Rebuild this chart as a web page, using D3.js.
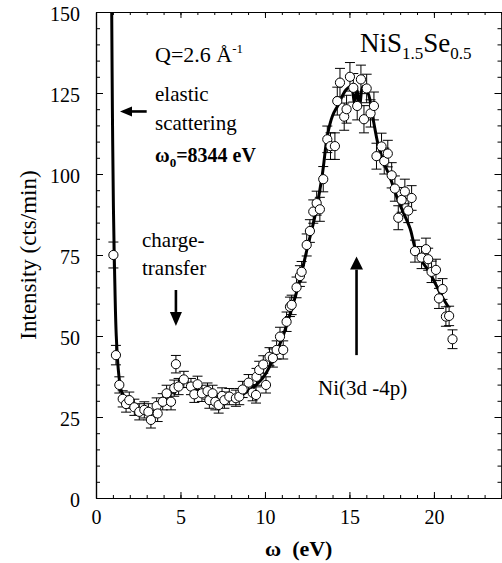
<!DOCTYPE html>
<html>
<head>
<meta charset="utf-8">
<script src="https://cdn.jsdelivr.net/npm/d3@7"></script>
<style>
  body { margin: 0; background: #fff; }
  svg { display: block; }
  svg text { font-family: "Liberation Serif", "Times New Roman", serif; fill: #000; }
</style>
</head>
<body>
<svg id="chart" width="502" height="563" font-family="Liberation Serif, serif"></svg>
<script>
// measured points: energy loss (eV), intensity (cts/min), error bar half-height
const omega = [1.03, 1.18, 1.38, 1.58, 1.78, 1.97, 2.27, 2.56, 2.86, 3.10, 3.25, 3.59, 3.65, 3.95, 4.18, 4.44, 4.63, 4.73, 4.89, 5.20,
  5.62, 5.82, 6.01, 6.27, 6.60, 6.71, 6.90, 7.06, 7.26, 7.46, 7.60, 7.89, 8.28, 8.48, 8.68, 9.03, 9.27, 9.47, 9.50, 9.66,
  9.90, 10.06, 10.27, 10.47, 10.69, 10.89, 11.08, 11.28, 11.48, 11.58, 11.87, 12.07, 12.17, 12.47, 12.66, 12.86, 13.06, 13.25, 13.45, 13.69,
  13.88, 14.14, 14.28, 14.44, 14.69, 14.83, 15.03, 15.23, 15.46, 15.68, 15.86, 16.02, 16.25, 16.45, 16.60, 16.90, 17.06, 17.27, 17.50, 17.69,
  17.89, 18.09, 18.28, 18.48, 18.68, 18.88, 19.27, 19.53, 19.66, 19.86, 20.12, 20.30, 20.51, 20.71, 20.90, 21.10];
const intensity = [75.0, 44.1, 34.9, 30.6, 29.0, 30.2, 28.0, 26.6, 27.2, 26.6, 24.1, 28.4, 26.1, 29.7, 32.3, 29.7, 33.9, 41.3, 34.4, 36.6,
  34.4, 32.0, 35.1, 32.3, 33.0, 30.2, 32.3, 29.7, 28.7, 31.5, 30.2, 31.3, 30.8, 31.3, 33.5, 35.6, 32.5, 31.8, 37.4, 39.5,
  41.2, 34.9, 43.6, 43.2, 45.7, 49.8, 45.7, 54.4, 59.0, 59.6, 65.0, 68.5, 69.8, 78.1, 82.4, 88.4, 91.0, 89.1, 98.4, 110.7,
  108.6, 108.6, 122.5, 128.2, 117.7, 120.0, 130.0, 126.6, 121.0, 129.2, 116.9, 126.4, 118.7, 121.0, 105.5, 108.5, 104.0, 106.3, 99.6, 95.5,
  86.5, 92.0, 94.6, 88.7, 92.6, 76.2, 74.2, 76.8, 73.7, 69.8, 70.4, 61.6, 64.5, 56.0, 56.2, 49.0];
const errors = [4.0, 3.0, 2.5, 2.5, 2.5, 2.5, 2.5, 2.5, 2.5, 2.5, 2.5, 2.5, 2.5, 2.5, 2.5, 2.5, 2.5, 2.7, 2.5, 2.5,
  2.5, 2.5, 2.5, 2.5, 2.5, 2.5, 2.5, 2.5, 2.5, 2.5, 2.5, 2.5, 2.5, 2.5, 2.5, 2.5, 2.5, 2.5, 2.6, 2.7,
  2.7, 2.5, 2.8, 2.8, 2.8, 2.9, 2.8, 3.0, 3.0, 3.0, 3.2, 3.2, 3.2, 3.4, 3.5, 3.6, 3.7, 3.7, 3.9, 4.1,
  4.1, 4.1, 4.3, 4.4, 4.2, 4.3, 4.4, 4.4, 4.3, 4.4, 4.2, 4.4, 4.2, 4.3, 4.0, 4.1, 4.0, 4.1, 3.9, 3.9,
  3.7, 3.8, 3.8, 3.7, 3.8, 3.4, 3.4, 3.4, 3.4, 3.3, 3.3, 3.1, 3.2, 3.0, 3.0, 2.9];

// fitted curve drawn through the data
const fitOmega = [0.93, 0.97, 1.03, 1.10, 1.20, 1.35, 1.50, 1.70, 2.0, 2.5, 3.0, 3.5, 4.0, 4.5, 5.0, 5.3, 5.7, 6.2, 7.0, 7.5,
  8.0, 8.5, 9.0, 9.5, 10.0, 10.5, 11.0, 11.5, 12.0, 12.5, 13.0, 13.4, 13.7, 14.0, 14.3, 14.8, 15.1, 15.3, 15.45, 15.6,
  15.8, 16.1, 16.4, 16.7, 17.0, 17.4, 17.8, 18.2, 18.6, 18.9, 19.3, 19.7, 20.1, 20.5, 20.85];
const fitIntensity = [150, 120, 90, 70, 50, 38, 33, 31, 29.5, 27.5, 26.5, 27, 29.5, 33, 35.5, 36, 34.5, 33, 31, 30.5,
  31, 31.5, 33, 35, 38, 43, 49, 57, 66, 77, 88, 100, 112, 118, 121, 126, 127, 122, 126, 121,
  127, 125, 117, 109, 104, 99, 93, 88, 83, 77, 73, 70, 66, 62, 59];

const xTicks = [0, 5, 10, 15, 20];
const yTicks = [0, 25, 50, 75, 100, 125, 150];

const serif = '"Liberation Serif", "Times New Roman", serif';
const svg = d3.select('#chart');
const margin = { left: 96, top: 12, right: 0.5, bottom: 65 },
  width = 502, height = 563;

const x = d3.scaleLinear().domain([0, 24]).range([margin.left, width - margin.right]);
const y = d3.scaleLinear().domain([0, 150]).range([height - margin.bottom, margin.top]);

// frame and ticks (all ticks point inward)
const axisStyle = g => {
  g.attr('font-family', serif);
  g.selectAll('path.domain').attr('stroke', '#000').attr('stroke-width', 1.2);
  g.selectAll('.tick line').attr('stroke', '#000').attr('stroke-width', 1);
  g.selectAll('.tick text').attr('font-size', 20).attr('fill', '#000').attr('font-family', serif);
};

svg.append('g').attr('transform', `translate(0,${y(0)})`)
  .call(d3.axisBottom(x).tickValues(d3.range(0, 25, 1)).tickSize(-3).tickSizeOuter(0).tickFormat(''))
  .call(axisStyle);
svg.append('g').attr('transform', `translate(0,${y(0)})`)
  .call(d3.axisBottom(x).tickValues(xTicks).tickSize(-6).tickSizeOuter(0).tickPadding(12))
  .call(axisStyle);
svg.append('g').attr('transform', `translate(0,${y(150)})`)
  .call(d3.axisTop(x).tickValues(d3.range(0, 25, 1)).tickSize(-3).tickSizeOuter(0).tickFormat(''))
  .call(axisStyle);
svg.append('g').attr('transform', `translate(0,${y(150)})`)
  .call(d3.axisTop(x).tickValues(xTicks).tickSize(-6).tickSizeOuter(0).tickFormat(''))
  .call(axisStyle);

svg.append('g').attr('transform', `translate(${x(0)},0)`)
  .call(d3.axisLeft(y).tickValues(d3.range(0, 151, 5)).tickSize(-4).tickSizeOuter(0).tickFormat(''))
  .call(axisStyle);
svg.append('g').attr('transform', `translate(${x(0)},0)`)
  .call(d3.axisLeft(y).tickValues(yTicks).tickSize(-7).tickSizeOuter(0).tickPadding(16))
  .call(axisStyle)
  .selectAll('.tick text').attr('dy', '0.4em');
svg.append('g').attr('transform', `translate(${x(24)},0)`)
  .call(d3.axisRight(y).tickValues(d3.range(0, 151, 5)).tickSize(-4).tickSizeOuter(0).tickFormat(''))
  .call(axisStyle);
svg.append('g').attr('transform', `translate(${x(24)},0)`)
  .call(d3.axisRight(y).tickValues(yTicks).tickSize(-7).tickSizeOuter(0).tickFormat(''))
  .call(axisStyle);

// axis titles
svg.append('text')
  .attr('transform', `translate(36,${(y(0) + y(150)) / 2}) rotate(-90)`)
  .attr('text-anchor', 'middle')
  .attr('font-family', serif)
  .attr('font-size', 23)
  .text('Intensity (cts/min)');

svg.append('text')
  .attr('x', (x(0) + x(24)) / 2).attr('y', 556)
  .attr('text-anchor', 'middle')
  .attr('font-family', serif)
  .attr('font-size', 22).attr('font-weight', 'bold')
  .style('white-space', 'pre')
  .text('ω  (eV)');

// clip for the elastic line leaving the top
svg.append('clipPath').attr('id', 'plot-clip')
  .append('rect')
  .attr('x', x(0)).attr('y', y(150))
  .attr('width', x(24) - x(0)).attr('height', y(0) - y(150));

const fitData = fitOmega.map((d, i) => [d, fitIntensity[i]]);
const line = d3.line()
  .x(d => x(d[0]))
  .y(d => y(d[1]))
  .curve(d3.curveCatmullRom);

svg.append('path')
  .datum(fitData)
  .attr('clip-path', 'url(#plot-clip)')
  .attr('d', line)
  .attr('fill', 'none')
  .attr('stroke', '#000')
  .attr('stroke-width', 3);

const points = omega.map((d, i) => ({ w: d, v: intensity[i], e: errors[i] }));

// error bars with caps
const bars = svg.append('g').attr('stroke', '#000').attr('stroke-width', 1);
bars.selectAll('line.err')
  .data(points).enter().append('line')
  .attr('class', 'err')
  .attr('x1', d => x(d.w)).attr('x2', d => x(d.w))
  .attr('y1', d => y(d.v - d.e)).attr('y2', d => y(d.v + d.e));
bars.selectAll('line.cap-top')
  .data(points).enter().append('line')
  .attr('class', 'cap-top')
  .attr('x1', d => x(d.w) - 5).attr('x2', d => x(d.w) + 5)
  .attr('y1', d => y(d.v + d.e)).attr('y2', d => y(d.v + d.e));
bars.selectAll('line.cap-bot')
  .data(points).enter().append('line')
  .attr('class', 'cap-bot')
  .attr('x1', d => x(d.w) - 5).attr('x2', d => x(d.w) + 5)
  .attr('y1', d => y(d.v - d.e)).attr('y2', d => y(d.v - d.e));

svg.append('g').selectAll('circle')
  .data(points).enter().append('circle')
  .attr('cx', d => x(d.w))
  .attr('cy', d => y(d.v))
  .attr('r', 4.6)
  .attr('fill', '#fff')
  .attr('stroke', '#000')
  .attr('stroke-width', 1);

// arrows
function arrow(x1, y1, x2, y2, headLen, headHalf) {
  const a = Math.atan2(y2 - y1, x2 - x1);
  const bx = x2 - headLen * Math.cos(a), by = y2 - headLen * Math.sin(a);
  svg.append('line')
    .attr('x1', x1).attr('y1', y1).attr('x2', bx).attr('y2', by)
    .attr('stroke', '#000').attr('stroke-width', 2.6);
  const px = -Math.sin(a) * headHalf, py = Math.cos(a) * headHalf;
  svg.append('path')
    .attr('d', `M${x2},${y2}L${bx + px},${by + py}L${bx - px},${by - py}Z`)
    .attr('fill', '#000');
}
arrow(x(3.0), y(119.3), x(1.42), y(119.3), 12, 5);
arrow(x(4.73), y(64.2), x(4.73), y(53.1), 14, 6);
arrow(x(15.42), y(44.1), x(15.42), y(74.5), 13, 6.5);

// annotations
const note = (tx, ty, size, str) => svg.append('text')
  .attr('x', tx).attr('y', ty)
  .attr('font-family', serif)
  .attr('font-size', size).text(str);

const q = note(155, 62, 22, 'Q=2.6 Å');
q.append('tspan').attr('font-size', 13).attr('dy', -9).text('-1');

note(155, 101, 21, 'elastic');
note(155, 130, 21, 'scattering');
const w0 = note(155, 162, 20, 'ω').attr('font-weight', 'bold');
w0.append('tspan').attr('font-size', 13).attr('dy', 5).text('0');
w0.append('tspan').attr('dy', -5).text('=8344 eV');

const ni = note(360, 52, 27, 'NiS');
ni.append('tspan').attr('font-size', 17).attr('dy', 7).text('1.5');
ni.append('tspan').attr('dy', -7).text('Se');
ni.append('tspan').attr('font-size', 17).attr('dy', 7).text('0.5');

note(142, 247, 21, 'charge-');
note(142, 275, 21, 'transfer');
note(318, 395, 21, 'Ni(3d -4p)');
</script>
</body>
</html>
